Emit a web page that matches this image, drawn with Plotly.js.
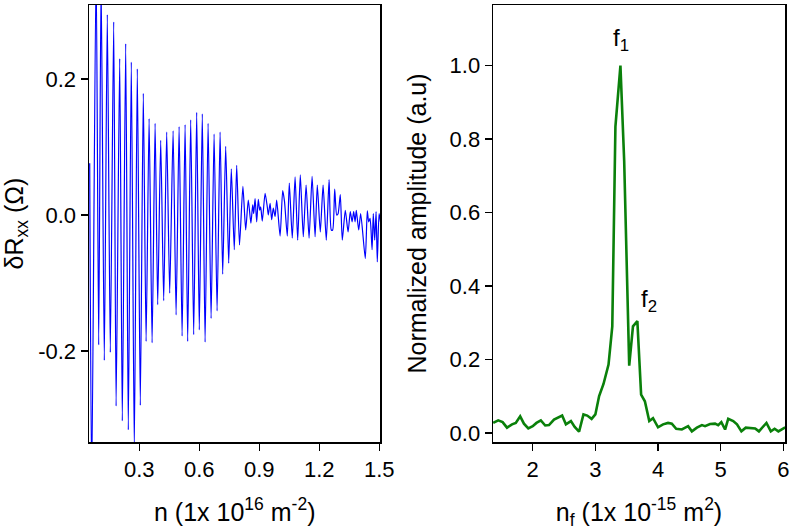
<!DOCTYPE html>
<html>
<head>
<meta charset="utf-8">
<script src="https://cdn.plot.ly/plotly-3.0.1.min.js"></script>
<style>
  html, body { margin: 0; padding: 0; background: #fff; }
  #chart { width: 793px; height: 531px; }
</style>
</head>
<body>
<div id="chart"></div>
<script>
// left panel: oscillating delta Rxx vs carrier density (extrema)
const densityN = [
  0.052, 0.062, 0.084, 0.097, 0.109, 0.125, 0.140, 0.155, 0.172, 0.184,
  0.202, 0.215, 0.232, 0.245, 0.260, 0.275, 0.290, 0.305, 0.320, 0.334,
  0.349, 0.364, 0.379, 0.392, 0.407, 0.422, 0.437, 0.452, 0.469, 0.484,
  0.499, 0.514, 0.529, 0.542, 0.557, 0.572, 0.587, 0.600, 0.615, 0.629,
  0.644, 0.659, 0.674, 0.689, 0.704, 0.717, 0.732, 0.747, 0.760, 0.775,
  0.787, 0.801, 0.818, 0.832, 0.845, 0.858, 0.867, 0.872, 0.879, 0.887,
  0.895, 0.902, 0.907, 0.915, 0.929, 0.940, 0.945, 0.954, 0.962, 0.970,
  0.979, 0.987, 1.004, 1.017, 1.026, 1.040, 1.050, 1.065, 1.079, 1.092,
  1.105, 1.120, 1.134, 1.149, 1.164, 1.179, 1.190, 1.205, 1.219, 1.235,
  1.249, 1.260, 1.267, 1.277, 1.287, 1.294, 1.305, 1.315, 1.330, 1.344,
  1.355, 1.364, 1.372, 1.379, 1.385, 1.397, 1.407, 1.430, 1.440, 1.447,
  1.454, 1.464, 1.470, 1.477, 1.484, 1.490, 1.499, 1.506
];
const deltaRxx = [
  0.076, -0.400, 0.370, -0.191, 0.350, -0.214, 0.295, -0.202, 0.284, -0.281,
  0.230, -0.303, 0.252, -0.316, 0.225, -0.345, 0.215, -0.280, 0.179, -0.186,
  0.142, -0.188, 0.135, -0.132, 0.110, -0.126, 0.122, -0.115, 0.124, -0.147,
  0.130, -0.178, 0.133, -0.186, 0.140, -0.176, 0.151, -0.169, 0.149, -0.187,
  0.135, -0.152, 0.119, -0.141, 0.122, -0.087, 0.101, -0.071, 0.068, -0.051,
  0.073, -0.044, 0.042, -0.022, 0.022, -0.012, 0.015, 0.002, 0.024, -0.010,
  0.023, 0.007, 0.012, -0.009, 0.032, 0.012, 0.000, 0.017, -0.007, 0.010,
  -0.002, 0.022, -0.031, 0.036, 0.020, -0.031, 0.047, -0.034, 0.056, -0.037,
  0.059, -0.032, 0.044, -0.034, 0.057, -0.032, 0.044, -0.025, 0.044, -0.037,
  0.052, -0.022, -0.022, 0.038, 0.000, 0.002, 0.030, -0.037, 0.007, -0.025,
  0.005, -0.010, 0.005, -0.010, 0.007, -0.022, 0.002, -0.064, 0.006, -0.010,
  -0.005, -0.051, 0.002, -0.037, 0.005, -0.069, 0.002, -0.010
];

// right panel: FFT amplitude vs frequency
const freqNf = [
  1.37, 1.45, 1.52, 1.59, 1.67, 1.73, 1.80, 1.86, 1.93, 2.00,
  2.06, 2.13, 2.20, 2.26, 2.34, 2.41, 2.47, 2.53, 2.61, 2.67,
  2.74, 2.81, 2.87, 2.94, 3.00, 3.06, 3.13, 3.21, 3.27, 3.32,
  3.40, 3.46, 3.54, 3.60, 3.67, 3.73, 3.79, 3.86, 3.92, 4.00,
  4.08, 4.16, 4.22, 4.29, 4.38, 4.48, 4.54, 4.62, 4.70, 4.75,
  4.83, 4.91, 4.96, 5.01, 5.07, 5.12, 5.20, 5.26, 5.33, 5.40,
  5.49, 5.55, 5.61, 5.68, 5.73, 5.80, 5.86, 5.92, 6.03
];
const amplitude = [
  0.027, 0.034, 0.029, 0.014, 0.023, 0.027, 0.045, 0.025, 0.012, 0.018,
  0.027, 0.034, 0.020, 0.021, 0.036, 0.041, 0.047, 0.023, 0.032, 0.016,
  0.003, 0.050, 0.047, 0.038, 0.050, 0.100, 0.133, 0.186, 0.290, 0.834,
  1.000, 0.740, 0.183, 0.290, 0.304, 0.104, 0.086, 0.032, 0.040, 0.015,
  0.023, 0.027, 0.025, 0.011, 0.009, 0.018, 0.004, 0.014, 0.021, 0.018,
  0.024, 0.025, 0.021, 0.029, 0.009, 0.038, 0.032, 0.023, 0.004, 0.014,
  0.014, 0.012, 0.004, 0.018, 0.027, 0.004, 0.011, 0.004, 0.015
];

const leftXTicks = [0.3, 0.6, 0.9, 1.2, 1.5];
const leftXLabels = ['0.3', '0.6', '0.9', '1.2', '1.5'];
const leftYTicks = [-0.2, 0, 0.2];
const leftYLabels = ['-0.2', '0.0', '0.2'];
const rightXTicks = [2, 3, 4, 5, 6];
const rightYTicks = [0, 0.2, 0.4, 0.6, 0.8, 1.0];
const rightYLabels = ['0.0', '0.2', '0.4', '0.6', '0.8', '1.0'];

const FONT = 'Liberation Sans, Arial, Helvetica, sans-serif';

const axisBase = {
  showline: true, mirror: true, linecolor: '#000', linewidth: 1.5,
  ticks: 'outside', ticklen: 7, tickwidth: 1.5, tickcolor: '#000',
  showgrid: false, zeroline: false, tickmode: 'array',
  tickfont: { family: FONT, size: 22, color: '#000' },
};

Plotly.newPlot('chart', [{
  x: densityN, y: deltaRxx,
  type: 'scatter', mode: 'lines',
  line: { color: '#0000ff', width: 1.2, shape: 'spline', smoothing: 0.6 },
  xaxis: 'x', yaxis: 'y',
}, {
  x: freqNf, y: amplitude,
  type: 'scatter', mode: 'lines',
  line: { color: '#0a800a', width: 2.6 },
  xaxis: 'x2', yaxis: 'y2',
}], {
  width: 793, height: 531,
  margin: { l: 89, r: 8, t: 5, b: 88.5 },
  paper_bgcolor: '#fff', plot_bgcolor: '#fff',
  showlegend: false,
  font: { family: FONT, color: '#000' },
  xaxis: {
    ...axisBase, domain: [0, 0.4188], range: [0.0485, 1.506],
    tickvals: leftXTicks, ticktext: leftXLabels,
    title: { text: 'n (1x 10<sup>16</sup> m<sup>-2</sup>)', font: { family: FONT, size: 25 }, standoff: 22 },
  },
  yaxis: {
    ...axisBase, domain: [0, 1], range: [-0.334, 0.309],
    tickvals: leftYTicks, ticktext: leftYLabels,
    title: { text: 'δR<sub>xx</sub> (Ω)', font: { family: FONT, size: 25 }, standoff: 12 },
  },
  xaxis2: {
    ...axisBase, anchor: 'y2', domain: [0.5805, 1], range: [1.367, 6.026],
    tickvals: rightXTicks,
    title: { text: 'n<sub>f</sub> (1x 10<sup>-15</sup> m<sup>2</sup>)', font: { family: FONT, size: 25 }, standoff: 22 },
  },
  yaxis2: {
    ...axisBase, anchor: 'x2', domain: [0, 1], range: [-0.025, 1.165],
    tickvals: rightYTicks, ticktext: rightYLabels,
    title: { text: 'Normalized amplitude (a.u)', font: { family: FONT, size: 25 }, standoff: 16 },
  },
  annotations: [
    { xref: 'x2', yref: 'y2', x: 3.41, y: 1.07, text: 'f<sub>1</sub>', showarrow: false,
      xanchor: 'center', yanchor: 'middle', font: { family: FONT, size: 24, color: '#000' } },
    { xref: 'x2', yref: 'y2', x: 3.86, y: 0.36, text: 'f<sub>2</sub>', showarrow: false,
      xanchor: 'center', yanchor: 'middle', font: { family: FONT, size: 24, color: '#000' } },
  ],
}, { displayModeBar: false, staticPlot: true });
</script>
</body>
</html>
